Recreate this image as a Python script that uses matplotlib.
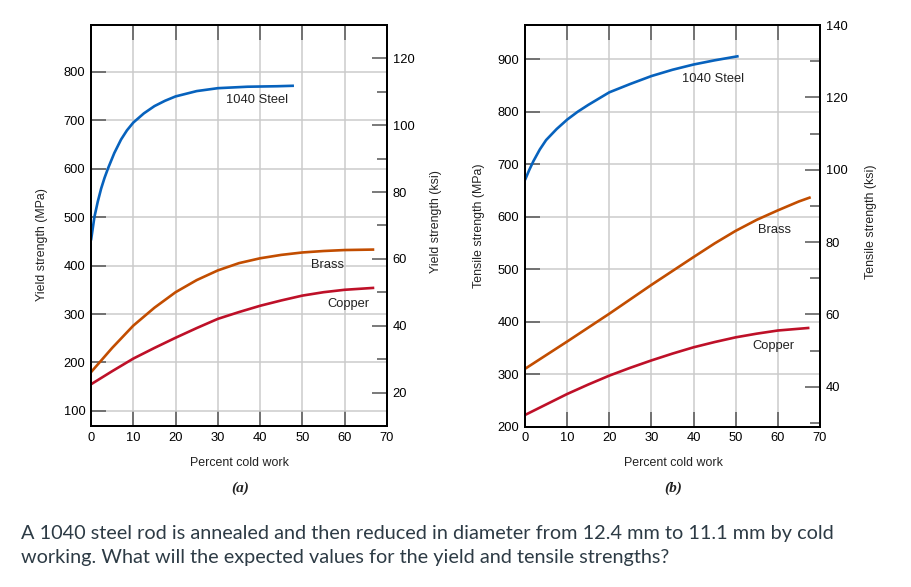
import matplotlib.pyplot as plt
import numpy as np
from matplotlib.ticker import MultipleLocator, NullFormatter

MPA_PER_KSI = 6.895

# (a) yield strength vs percent cold work
steel_y_cw = [0, 0.8, 1.6, 2.4, 3.2, 4, 5.5, 7.1, 8.5, 10, 12.5, 15, 17.5, 20, 25, 30, 37, 44, 48]
steel_y = [452, 500, 532, 559, 581, 600, 632, 660, 679, 695, 714, 729, 740, 749, 760, 766, 769, 770, 771]
brass_y_cw = [0, 5, 10, 15, 20, 25, 30, 35, 40, 45, 50, 55, 60, 67]
brass_y = [180, 230, 276, 313, 345, 370, 390, 405, 415, 422, 427, 430, 432, 433]
copper_y_cw = [0, 5, 10, 15, 20, 25, 30, 35, 40, 45, 50, 55, 60, 67]
copper_y = [155, 182, 208, 230, 251, 271, 290, 304, 317, 328, 338, 345, 350, 354]

# (b) tensile strength vs percent cold work
steel_t_cw = [0, 1, 2, 3.5, 5, 7.5, 10, 12.5, 15, 20, 25, 30, 35, 40, 45, 50.7]
steel_t = [670, 689, 706, 728, 746, 767, 785, 800, 813, 837, 853, 868, 880, 890, 898, 906]
brass_t_cw = [0, 10, 20, 30, 40, 45, 50, 55, 60, 65, 67.8]
brass_t = [310, 362, 415, 470, 523, 549, 573, 594, 612, 629, 637]
copper_t_cw = [0, 5, 10, 15, 20, 25, 30, 35, 40, 45, 50, 55, 60, 67.5]
copper_t = [222, 242, 262, 280, 297, 312, 326, 339, 351, 361, 370, 377, 383, 388]

blue = '#0762bd'
orange = '#c24d00'
red = '#be1028'
tick_font = 'Liberation Sans'

fig = plt.figure(figsize=(9.12, 5.87), dpi=100)
ax_a = fig.add_axes([0.0998, 0.2743, 0.3245, 0.6831])
ax_b = fig.add_axes([0.5757, 0.2734, 0.3234, 0.6840])


def style_axes(ax, ylim_mpa):
    ax.set_xlim(0, 70)
    ax.set_ylim(*ylim_mpa)
    ax.xaxis.set_major_locator(MultipleLocator(10))
    ax.yaxis.set_major_locator(MultipleLocator(100))
    ax.grid(True, color='#cbcbcb', lw=1.1)
    ax.set_axisbelow(True)
    ax.tick_params(direction='in', length=11, width=1.1, color='#555555',
                   top=True, labelsize=9.3, pad=4)
    for lab in ax.get_xticklabels() + ax.get_yticklabels():
        lab.set_fontfamily(tick_font)
    for s in ax.spines.values():
        s.set_linewidth(1.4)
    tw = ax.twinx()
    tw.set_ylim(ylim_mpa[0] / MPA_PER_KSI, ylim_mpa[1] / MPA_PER_KSI)
    tw.yaxis.set_major_locator(MultipleLocator(20))
    tw.yaxis.set_minor_locator(MultipleLocator(10))
    tw.yaxis.set_minor_formatter(NullFormatter())
    tw.tick_params(which='major', direction='in', length=11, width=1.1,
                   color='#555555', labelsize=9.3, pad=4)
    tw.tick_params(which='minor', direction='in', length=7, width=1.1,
                   color='#555555')
    for lab in tw.get_yticklabels():
        lab.set_fontfamily(tick_font)
    for s in tw.spines.values():
        s.set_linewidth(1.4)
    return tw


style_axes(ax_a, (10 * MPA_PER_KSI, 130 * MPA_PER_KSI))
style_axes(ax_b, (200, 140 * MPA_PER_KSI))

lw = 1.9
ax_a.plot(steel_y_cw, steel_y, color=blue, lw=lw, solid_capstyle='butt')
ax_a.plot(brass_y_cw, brass_y, color=orange, lw=lw, solid_capstyle='butt')
ax_a.plot(copper_y_cw, copper_y, color=red, lw=lw, solid_capstyle='butt')
ax_b.plot(steel_t_cw, steel_t, color=blue, lw=lw, solid_capstyle='butt')
ax_b.plot(brass_t_cw, brass_t, color=orange, lw=lw, solid_capstyle='butt')
ax_b.plot(copper_t_cw, copper_t, color=red, lw=lw, solid_capstyle='butt')

lbl = dict(fontsize=9.3, family=tick_font, ha='center', va='center', color='#222222')
ax_a.text(39.2, 741, '1040 Steel', **lbl)
ax_a.text(56, 402, 'Brass', **lbl)
ax_a.text(60.8, 321, 'Copper', **lbl)
ax_b.text(44.7, 862, '1040 Steel', **lbl)
ax_b.text(59.3, 574, 'Brass', **lbl)
ax_b.text(59, 354, 'Copper', **lbl)

ylab = dict(fontsize=8.9, family=tick_font, rotation=90, ha='center', va='center',
            color='#222222')
fig.text(42 / 912, 1 - 245 / 587, 'Yield strength (MPa)', **ylab)
fig.text(436 / 912, 1 - 222 / 587, 'Yield strength (ksi)', **ylab)
fig.text(479 / 912, 1 - 226 / 587, 'Tensile strength (MPa)', **ylab)
fig.text(871 / 912, 1 - 222 / 587, 'Tensile strength (ksi)', **ylab)

xl = dict(fontsize=8.9, family=tick_font, ha='center', va='center', color='#222222')
fig.text(239 / 912, 1 - 463 / 587, 'Percent cold work', **xl)
fig.text(673 / 912, 1 - 463 / 587, 'Percent cold work', **xl)
pl = dict(fontsize=11, family='Liberation Serif', style='italic', weight='bold',
          ha='center', va='center', color='#222222')
fig.text(240 / 912, 1 - 488 / 587, '(a)', **pl)
fig.text(673 / 912, 1 - 488 / 587, '(b)', **pl)

q = dict(fontsize=14.3, family='Lato', ha='left', va='baseline', color='#2d3b45')
fig.text(21 / 912, 1 - 539 / 587,
         'A 1040 steel rod is annealed and then reduced in diameter from 12.4 mm to 11.1 mm by cold', **q)
fig.text(21 / 912, 1 - 563 / 587,
         'working. What will the expected values for the yield and tensile strengths?', **q)

fig.savefig('out.png', dpi=100)
